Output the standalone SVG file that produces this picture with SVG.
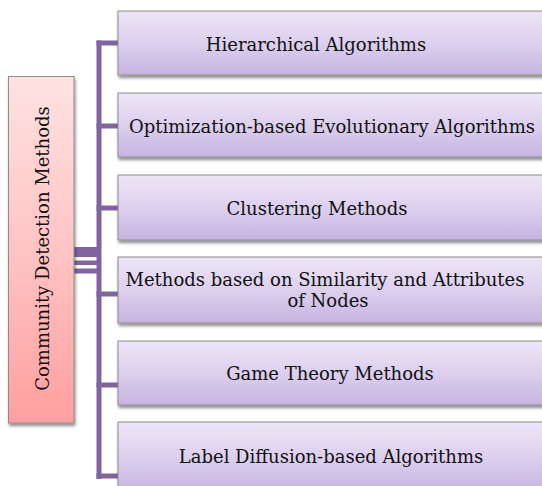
<svg xmlns="http://www.w3.org/2000/svg" width="542" height="486" viewBox="0 0 542 486">
<defs>
<linearGradient id="gp" x1="0" y1="0" x2="0" y2="1">
<stop offset="0" stop-color="#ede6f6"/>
<stop offset="0.5" stop-color="#dcd0ee"/>
<stop offset="1" stop-color="#c6b4e1"/>
</linearGradient>
<linearGradient id="gr" x1="0" y1="0" x2="0" y2="1">
<stop offset="0" stop-color="#ffe2e2"/>
<stop offset="0.5" stop-color="#ffc4c4"/>
<stop offset="1" stop-color="#ff9f9f"/>
</linearGradient>
<filter id="sh" x="-10%" y="-10%" width="130%" height="140%">
<feDropShadow dx="1" dy="2.5" stdDeviation="1.5" flood-color="#000" flood-opacity="0.45"/>
</filter>
</defs>
<style>
.box{fill:url(#gp);stroke:#8c8c8c;stroke-width:1;filter:url(#sh)}
.root{fill:url(#gr);stroke:#8c8c8c;stroke-width:1;filter:url(#sh)}
.t{font-family:"DejaVu Serif","Liberation Serif",serif;font-size:18px;fill:#111;text-anchor:middle}
.c{fill:#8064a2}
</style>
<rect width="542" height="486" fill="#fff"/>
<g id="connectors">
<rect class="c" x="96.5" y="40.5" width="5" height="438.5"/>
<rect class="c" x="96.5" y="40.5" width="22" height="5"/>
<rect class="c" x="96.5" y="123.5" width="22" height="5"/>
<rect class="c" x="96.5" y="205.5" width="22" height="5"/>
<rect class="c" x="96.5" y="291.5" width="22" height="5"/>
<rect class="c" x="96.5" y="382.5" width="22" height="5"/>
<rect class="c" x="96.5" y="473.5" width="22" height="5"/>
<rect class="c" x="74" y="247" width="24" height="10"/>
<rect class="c" x="74" y="260.5" width="24" height="4.5"/>
<rect class="c" x="74" y="268.5" width="24" height="5"/>
</g>
<g id="root">
<rect class="root" x="8.5" y="76.5" width="65.5" height="346.5"/>
<text class="t" transform="translate(49,248.5) rotate(-90)" x="0" y="0">Community Detection Methods</text>
</g>
<g id="n1">
<rect class="box" x="118" y="11" width="432" height="64"/>
<text class="t" x="316" y="51">Hierarchical Algorithms</text>
</g>
<g id="n2">
<rect class="box" x="118" y="93" width="432" height="64"/>
<text class="t" x="332" y="133">Optimization-based Evolutionary Algorithms</text>
</g>
<g id="n3">
<rect class="box" x="118" y="175" width="432" height="65"/>
<text class="t" x="317" y="215">Clustering Methods</text>
</g>
<g id="n4">
<rect class="box" x="118" y="257" width="432" height="66"/>
<text class="t" x="325" y="286">Methods based on Similarity and Attributes</text>
<text class="t" x="328" y="307">of Nodes</text>
</g>
<g id="n5">
<rect class="box" x="118" y="341" width="432" height="64"/>
<text class="t" x="330" y="380">Game Theory Methods</text>
</g>
<g id="n6">
<rect class="box" x="118" y="422" width="432" height="70"/>
<text class="t" x="331" y="463">Label Diffusion-based Algorithms</text>
</g>
</svg>
